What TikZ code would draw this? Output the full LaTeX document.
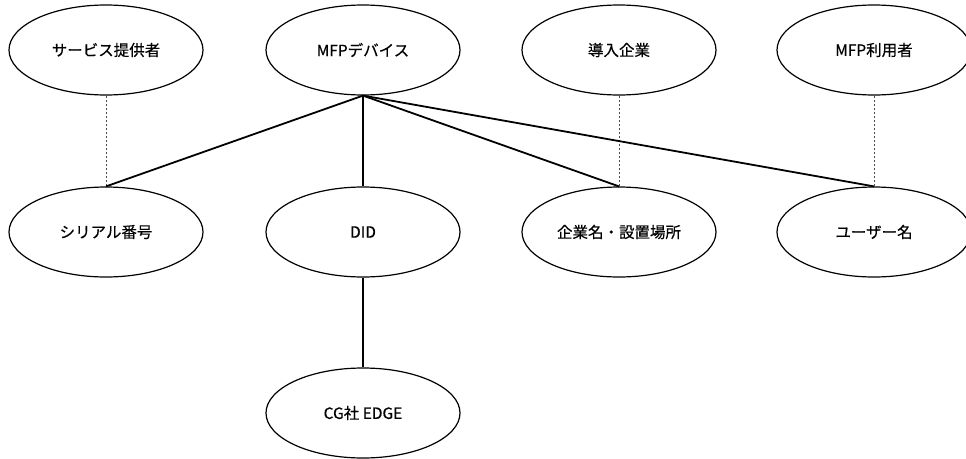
\documentclass[tikz,border=0pt]{standalone}
\usepackage{fontspec}
\setmainfont{Noto Sans CJK JP}[FakeBold=0.4]
\usetikzlibrary{shapes.geometric}
\tikzset{
  ent/.style={ellipse, draw=black, line width=1.2pt, minimum width=194pt, minimum height=90pt, inner sep=0pt, font=\fontsize{15.5}{18}\selectfont},
  rel/.style={line width=1.8pt, black},
  link/.style={dash pattern=on 2.5pt off 1.5pt, line width=0.6pt, black!70}
}
\begin{document}
\begin{tikzpicture}[x=1pt,y=-1pt]
\useasboundingbox (0,0) rectangle (966,458);
\clip (0,0) rectangle (966,458);
\node[ent] (prov) at (106,50) {サービス提供者};
\node[ent] (dev) at (363,50) {MFPデバイス};
\node[ent] (corp) at (619,50) {導入企業};
\node[ent] (user) at (874,50) {MFP利用者};
\node[ent] (serial) at (106,232) {シリアル番号};
\node[ent] (did) at (363,232) {DID};
\node[ent] (place) at (619,232) {企業名・設置場所};
\node[ent] (uname) at (874,232) {ユーザー名};
\node[ent] (edge) at (363,413) {CG社 EDGE};
\draw[link] (prov.south) -- (serial.north);
\draw[link] (corp.south) -- (place.north);
\draw[link] (user.south) -- (uname.north);
\draw[rel] (dev.south) -- (serial.north);
\draw[rel] (dev.south) -- (did.north);
\draw[rel] (dev.south) -- (place.north);
\draw[rel] (dev.south) -- (uname.north);
\draw[rel] (did.south) -- (edge.north);
\end{tikzpicture}
\end{document}
